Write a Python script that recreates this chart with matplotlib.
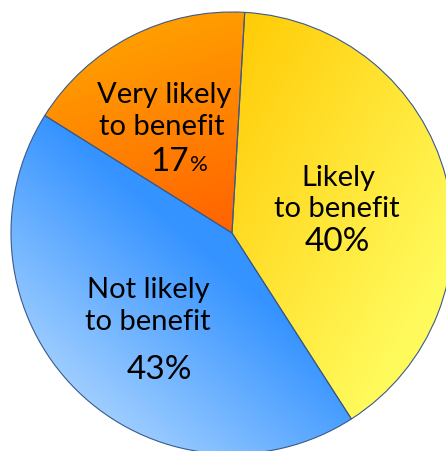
import numpy as np
import matplotlib
matplotlib.use("Agg")
import matplotlib.pyplot as plt
from matplotlib.colors import LinearSegmentedColormap

# === Data ===
labels = ["Likely\nto benefit", "Not likely\nto benefit", "Very likely\nto benefit"]
shares = [40, 43, 17]
pct_text = ["40%", "43%", "17"]

# gradient colours per slice (dark end, light end)
grad_colors = [("#FFC800", "#FFFA5C"), ("#3593FF", "#A3D0FF"), ("#FF6200", "#FF9C00")]
# gradient direction in screen coords (x right, y down) and range of projection
grad_dirs = [(0.85, 0.5), (-0.65, 0.76), (-0.3, -0.95)]
grad_range = [(-120, 200), (30, 230), (0, 210)]

W, H = 446, 452
cx, cy, r = 232, 234, 221

plt.rcParams["font.family"] = ["Lato", "DejaVu Sans"]
fig = plt.figure(figsize=(W / 100, H / 100), dpi=100)
ax = fig.add_axes([0, 0, 1, 1])

wedges, _ = ax.pie(shares, startangle=86.7, counterclock=False,
                   center=(cx, H - cy), radius=r,
                   wedgeprops=dict(edgecolor="#3A5A8A", linewidth=0.8))
ax.set_aspect("equal")
ax.axis("off")

# === Gradient fills clipped to each wedge ===
xs = np.arange(W) + 0.5
ys = np.arange(H) + 0.5
X, Y = np.meshgrid(xs, ys)  # Y is screen y (down)
for w, cols, d, rg in zip(wedges, grad_colors, grad_dirs, grad_range):
    w.set_facecolor("none")
    proj = (X - cx) * d[0] + (Y - cy) * d[1]
    t = np.clip((proj - rg[0]) / (rg[1] - rg[0]), 0, 1)
    cmap = LinearSegmentedColormap.from_list("g", cols)
    im = ax.imshow(t, cmap=cmap, extent=(0, W, 0, H), origin="upper",
                   interpolation="bilinear", zorder=0.5)
    im.set_clip_path(w)
    w.set_zorder(1)
ax.set_xlim(0, W)
ax.set_ylim(0, H)

# === Labels ===
lbl_fs = 21
ax.text(164, H - 103, "Very likely", fontsize=lbl_fs, ha="center", va="baseline")
ax.text(162, H - 135, "to benefit", fontsize=lbl_fs, ha="center", va="baseline")
ax.text(189, H - 171, pct_text[2], fontsize=24, ha="right", va="baseline")
ax.text(190, H - 171, "%", fontsize=16, ha="left", va="baseline")

ax.text(338, H - 186, "Likely", fontsize=lbl_fs, ha="center", va="baseline")
ax.text(337, H - 217, "to benefit", fontsize=lbl_fs, ha="center", va="baseline")
ax.text(337, H - 251, pct_text[0], fontsize=24, ha="center", va="baseline")

ax.text(148, H - 298, "Not likely", fontsize=lbl_fs, ha="center", va="baseline")
ax.text(148, H - 330, "to benefit", fontsize=lbl_fs, ha="center", va="baseline")
ax.text(159, H - 379, pct_text[1], fontsize=24, ha="center", va="baseline")

fig.savefig("out.png", dpi=100)
